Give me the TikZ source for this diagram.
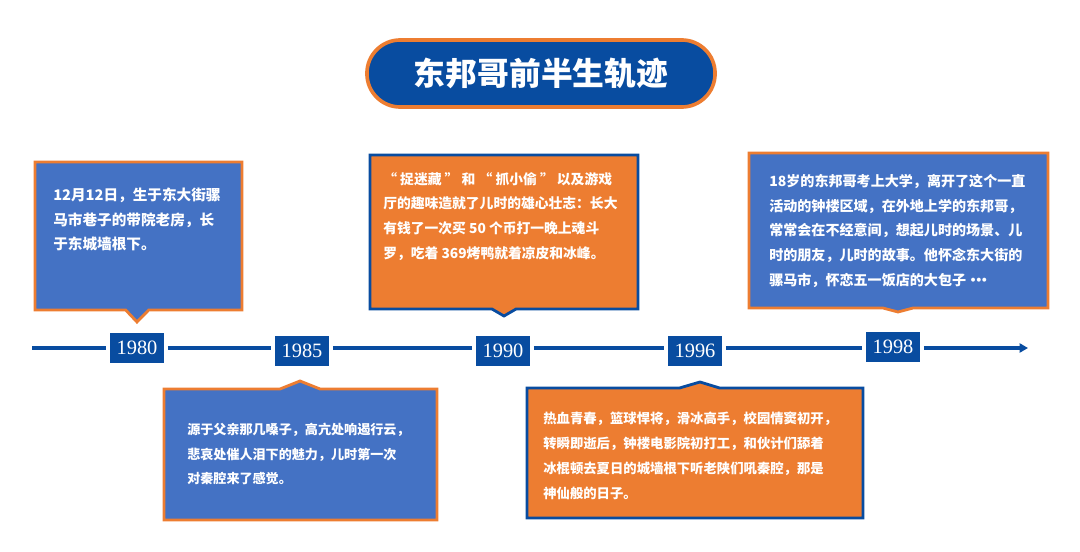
\documentclass[tikz,border=0pt]{standalone}
\usepackage{fontspec}
\setmainfont{Liberation Serif}
\newfontfamily\cjk{Noto Sans CJK SC}
\usetikzlibrary{arrows.meta,shapes.callouts}
\definecolor{dkblue}{RGB}{8,76,160}
\definecolor{midblue}{RGB}{68,114,196}
\definecolor{tangerine}{RGB}{237,125,49}

\begin{document}
\begin{tikzpicture}[x=0.025cm,y=-0.025cm,
  card/.style={rectangle callout,inner sep=0pt,line width=2pt},
  bluecard/.style={card,fill=midblue,draw=tangerine},
  orangecard/.style={card,fill=tangerine,draw=dkblue},
  memo/.style={anchor=north west,inner sep=0pt,align=left,text=white},
  year/.style={rectangle,fill=dkblue,text=white,minimum width=1.35cm,minimum height=0.725cm,inner sep=0pt,font=\fontsize{14.5}{15}\selectfont},
  tline/.style={draw=dkblue,line width=2.6pt}
]
\useasboundingbox (0,0) rectangle (1080,552);
\node[rectangle,rounded corners=0.83cm,fill=dkblue,draw=tangerine,line width=2.6pt,minimum width=8.7cm,minimum height=1.675cm,text=white,font=\cjk\bfseries\fontsize{22.6}{26}\selectfont] (title) at (541,73.5) {东邦哥前半生轨迹};

\node[bluecard,minimum width=5.175cm,minimum height=3.7cm,callout pointer width=0.575cm,callout absolute pointer={(137,322)}] (c1980) at (138.5,236) {};
\node[orangecard,minimum width=6.7cm,minimum height=3.85cm,callout pointer width=0.6cm,callout absolute pointer={(504,316)}] (c1990) at (504,232) {};
\node[bluecard,minimum width=7.475cm,minimum height=3.875cm,callout pointer width=0.75cm,callout absolute pointer={(898,312)}] (c1998) at (898.5,230.5) {};
\node[bluecard,minimum width=6.825cm,minimum height=3.275cm,callout pointer width=1cm,callout absolute pointer={(300,381)}] (c1985) at (300.5,454.5) {};
\node[orangecard,minimum width=8.4cm,minimum height=3.25cm,callout pointer width=1cm,callout absolute pointer={(700,382)}] (c1996) at (695,453) {};

\node[memo,font=\cjk\bfseries\fontsize{10.4}{17.4}\selectfont] (t1980) at (53,188) {12月12日，生于东大街骡\\马市巷子的带院老房，长\\于东城墙根下。};
\node[memo,font=\cjk\bfseries\fontsize{9.8}{17.6}\selectfont] (t1990) at (383,172) {“ 捉迷藏 ” 和 “ 抓小偷 ” 以及游戏\\厅的趣味造就了儿时的雄心壮志：长大\\有钱了一次买 50 个币打一晚上魂斗\\罗，吃着 369烤鸭就着凉皮和冰峰。};
\node[memo,font=\cjk\bfseries\fontsize{10}{17.6}\selectfont] (t1998) at (769,174) {18岁的东邦哥考上大学，离开了这个一直\\活动的钟楼区域，在外地上学的东邦哥，\\常常会在不经意间，想起儿时的场景、儿\\时的朋友，儿时的故事。他怀念东大街的\\骡马市，怀恋五一饭店的大包子•\kern-0.6em•\kern-0.6em•};
\node[memo,font=\cjk\bfseries\fontsize{9.3}{17.4}\selectfont] (t1985) at (187,423) {源于父亲那几嗓子，高亢处响遏行云，\\悲哀处催人泪下的魅力，儿时第一次\\对秦腔来了感觉。};
\node[memo,font=\cjk\bfseries\fontsize{9.5}{17.6}\selectfont] (t1996) at (543,412) {热血青春，篮球悍将，滑冰高手，校园情窦初开，\\转瞬即逝后，钟楼电影院初打工，和伙计们舔着\\冰棍顿去夏日的城墙根下听老陕们吼秦腔，那是\\神仙般的日子。};

\node[year] (y1980) at (137,348) {1980};
\node[year] (y1985) at (302,351) {1985};
\node[year] (y1990) at (503,351) {1990};
\node[year] (y1996) at (695,351) {1996};
\node[year] (y1998) at (893,347) {1998};
\coordinate (tstart) at (32,348);
\coordinate (tend) at (1028,348);
\draw[tline,shorten >=2.5pt] (tstart) -- (y1980.west |- tstart);
\foreach \a/\b in {y1980/y1985,y1985/y1990,y1990/y1996,y1996/y1998}
  \draw[tline,shorten <=2.5pt,shorten >=2.5pt] (\a.east |- tstart) -- (\b.west |- tstart);
\draw[tline,shorten <=2.5pt,-{Triangle[length=6pt,width=6.5pt]}] (y1998.east |- tstart) -- (tend);
\end{tikzpicture}
\end{document}
